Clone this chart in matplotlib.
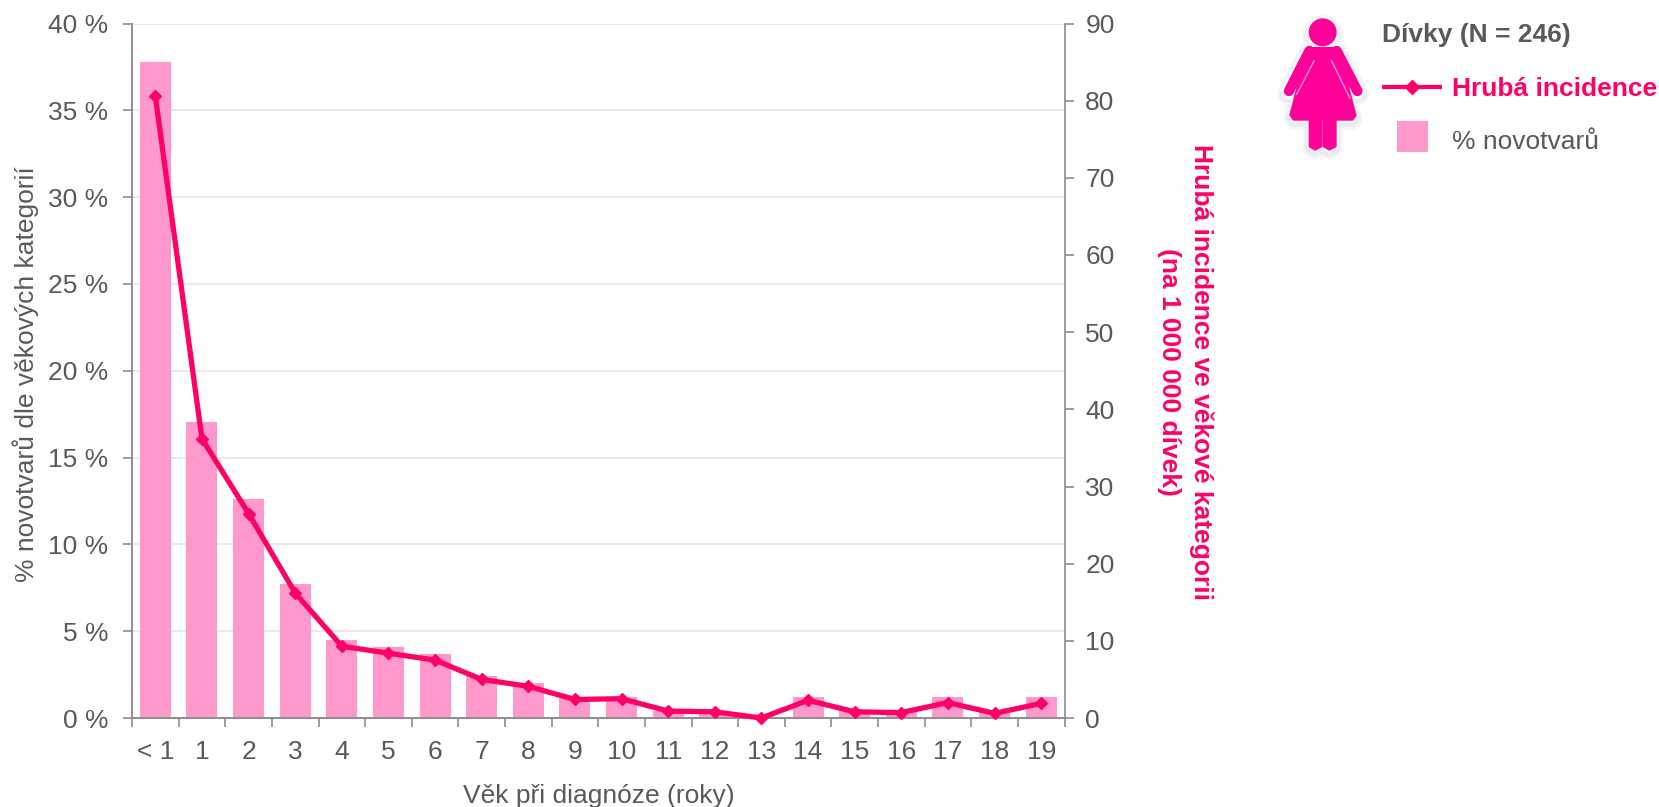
import matplotlib
matplotlib.use('Agg')
import matplotlib.pyplot as plt
from matplotlib.patches import Circle, Polygon, Rectangle

plt.rcParams['font.family'] = ['Liberation Sans', 'DejaVu Sans']

# Data
vek = ['< 1', '1', '2', '3', '4', '5', '6', '7', '8', '9', '10',
       '11', '12', '13', '14', '15', '16', '17', '18', '19']
procenta = [37.8, 17.07, 12.6, 7.72, 4.47, 4.07, 3.66, 2.44, 2.03, 1.22, 1.22,
            0.41, 0.41, 0.0, 1.22, 0.41, 0.41, 1.22, 0.41, 1.22]
incidence = [80.6, 36.2, 26.5, 16.2, 9.3, 8.4, 7.5, 5.0, 4.1, 2.4, 2.5,
             0.9, 0.8, 0.0, 2.3, 0.8, 0.7, 2.0, 0.6, 1.9]
ticks_left = [0, 5, 10, 15, 20, 25, 30, 35, 40]
ticks_right = [0, 10, 20, 30, 40, 50, 60, 70, 80, 90]

W, H = 1659, 807
GREY = '#595959'
AXIS = '#8c8c8c'
PINK_LINE = '#FF0066'
PINK_BAR = '#FF99CC'
PINK_ICON = '#FF0099'
FS = 19

fig = plt.figure(figsize=(W / 100, H / 100), dpi=100)

# Axes frame, in pixels from the top left corner
left, right, top, bottom = 132, 1064.5, 23.5, 718
ax = fig.add_axes([left / W, 1 - bottom / H, (right - left) / W, (bottom - top) / H])

x = list(range(len(vek)))
ax.bar(x, procenta, width=0.665, color=PINK_BAR, zorder=2)
ax.set_xlim(-0.5, 19.5)
ax.set_ylim(0, 40)
ax.set_yticks(ticks_left)
ax.set_yticklabels([f'{t} %' for t in ticks_left])
ax.yaxis.grid(True, color='#e9e9e9', linewidth=1.5, zorder=1)
ax.set_axisbelow(True)

# Ticks between the categories, labels under the bars
ax.set_xticks([i - 0.5 for i in range(len(vek) + 1)])
ax.set_xticklabels([])
ax.set_xticks(x, minor=True)
ax.set_xticklabels(vek, minor=True)
ax.tick_params(axis='x', which='major', length=6.5, width=1.2, color=AXIS)
ax.tick_params(axis='x', which='minor', length=0, pad=16, labelsize=FS, labelcolor=GREY)
ax.tick_params(axis='y', length=6.5, width=1.2, color=AXIS, pad=10.5, labelsize=FS, labelcolor=GREY)

for s in ['top', 'right']:
    ax.spines[s].set_visible(False)
for s in ['left', 'bottom']:
    ax.spines[s].set_color(AXIS)
    ax.spines[s].set_linewidth(1.4)

ax.set_xlabel('Věk při diagnóze (roky)', fontsize=FS, color=GREY, va='center')
ax.xaxis.set_label_coords(599 / W, 1 - 796 / H, transform=fig.transFigure)
ax.set_ylabel('% novotvarů dle věkových kategorií', fontsize=FS, color=GREY, va='center')
ax.yaxis.set_label_coords(26 / W, 1 - 374 / H, transform=fig.transFigure)

# Crude incidence on the second axis
ax2 = ax.twinx()
ax2.plot(x, incidence, color=PINK_LINE, linewidth=3.8, marker='D', markersize=6.5, zorder=5, clip_on=False)
ax2.set_ylim(0, 90)
ax2.set_yticks(ticks_right)
ax2.tick_params(axis='y', length=6.5, width=1.2, color=AXIS, pad=8.5, labelsize=FS, labelcolor=GREY)
for s in ['top', 'left', 'bottom']:
    ax2.spines[s].set_visible(False)
ax2.spines['right'].set_color(AXIS)
ax2.spines['right'].set_linewidth(1.2)

# Overlay in pixel coordinates for the legend and the figure icon
ov = fig.add_axes([0, 0, 1, 1], zorder=10)
ov.set_xlim(0, W)
ov.set_ylim(H, 0)
ov.axis('off')


def zx(v):
    return 1270 + v / 3


def zy(v):
    return 5 + v / 3


dress = [(112, 128), (205, 128), (258, 332), (248, 345), (198, 345), (198, 425), (178, 435),
         (160, 425), (160, 345), (155, 345), (155, 425), (135, 435), (118, 425), (118, 345),
         (70, 345), (60, 330)]
dress = [(zx(a), zy(b)) for a, b in dress]
arms = [((118, 138), (57, 258)), ((200, 138), (262, 258))]
slits = [((132, 168), (80, 268)), ((185, 168), (240, 280))]
head = (zx(158), zy(82))

# Soft shadow and white halo behind the icon
z = 1
for lw, col, off in [(9, '#f4f4f4', 3), (6, '#ebebeb', 2.5), (3.5, 'white', 0)]:
    ov.add_patch(Polygon([(a, b + off) for a, b in dress], closed=True, fc=col, ec=col, lw=lw,
                         joinstyle='round', zorder=z))
    ov.add_patch(Circle((head[0], head[1] + off), 14, fc=col, ec=col, lw=lw, zorder=z))
    for (a, b) in arms:
        ov.plot([zx(a[0]), zx(b[0])], [zy(a[1]) + off, zy(b[1]) + off], color=col, lw=7.5 + lw,
                solid_capstyle='round', zorder=z)
    z += 1

ov.add_patch(Polygon(dress, closed=True, fc=PINK_ICON, ec=PINK_ICON, lw=1, joinstyle='round', zorder=z))
ov.add_patch(Circle(head, 14, fc=PINK_ICON, ec='none', zorder=z))
for (a, b) in arms:
    ov.plot([zx(a[0]), zx(b[0])], [zy(a[1]), zy(b[1])], color=PINK_ICON, lw=7.5, solid_capstyle='round', zorder=z)
for (a, b) in slits:
    ov.plot([zx(a[0]), zx(b[0])], [zy(a[1]), zy(b[1])], color='#ff9ad6', lw=1, zorder=z + 1)

# Legend
ov.text(1382, 35, 'Dívky (N = 246)', fontsize=FS, fontweight='bold', color=GREY, va='center')
ov.plot([1382, 1411.5, 1441.5], [87.3, 87.3, 87.3], color=PINK_LINE, linewidth=3.0, marker='D',
        markersize=7, markevery=[1], solid_capstyle='butt')
ov.text(1452, 89, 'Hrubá incidence', fontsize=FS, fontweight='bold', color=PINK_LINE, va='center')
ov.add_patch(Rectangle((1397, 121), 31, 31, fc=PINK_BAR, ec='none'))
ov.text(1452, 142, '% novotvarů', fontsize=FS, color=GREY, va='center')

# Right axis title, two lines reading downwards
ov.text(1185, 372, 'Hrubá incidence ve věkové kategorii\n(na 1 000 000 dívek)', rotation=270, rotation_mode='anchor',
        fontsize=FS, fontweight='bold', color=PINK_LINE, ha='center', va='center', multialignment='center',
        linespacing=1.4)

fig.savefig('out.png', dpi=100)
